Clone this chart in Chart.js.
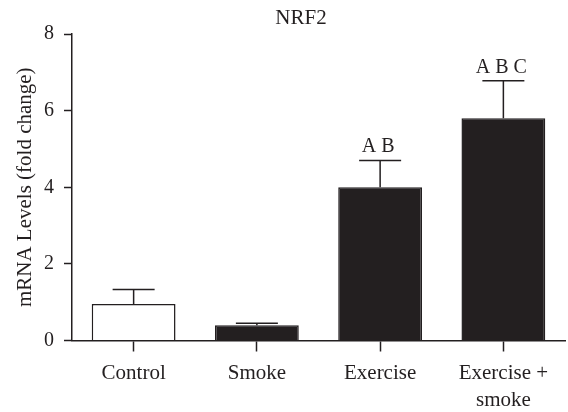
<!DOCTYPE html>
<html>
<head>
<meta charset="utf-8">
<script src="https://cdn.jsdelivr.net/npm/chart.js@4.4.1/dist/chart.umd.min.js"></script>
<style>
  html, body { margin: 0; padding: 0; background: #ffffff; }
  #wrap { width: 568px; height: 412px; position: relative; }
</style>
</head>
<body>
<div id="wrap"><canvas id="c" width="568" height="412"></canvas></div>
<script>
// NRF2 mRNA expression per group (fold change vs control)
const chartTitle = 'NRF2';
const yAxisTitle = 'mRNA Levels (fold change)';
const categories = ['Control', 'Smoke', 'Exercise', ['Exercise +', 'smoke']];
const meanValues = [0.95, 0.40, 4.0, 5.8];
const errorValues = [0.38, 0.05, 0.70, 0.98];
const significance = ['', '', 'A B', 'A B C'];
const yTicks = [0, 2, 4, 6, 8];

const INK = '#231f20';
const FONT = "'Liberation Serif', 'Times New Roman', serif";

const fills = ['#ffffff', INK, INK, INK];

// Upward error bars, significance letters and the chart title
const annotate = {
  id: 'annotate',
  afterDatasetsDraw(chart) {
    const ctx = chart.ctx;
    const meta = chart.getDatasetMeta(0);
    const y = chart.scales.y;
    ctx.save();
    ctx.strokeStyle = INK;
    ctx.lineWidth = 1.5;
    ctx.fillStyle = INK;
    ctx.font = '20px ' + FONT;
    ctx.textAlign = 'center';
    ctx.textBaseline = 'alphabetic';
    meta.data.forEach((bar, i) => {
      const x = bar.x;
      const top = y.getPixelForValue(meanValues[i]);
      const hi = y.getPixelForValue(meanValues[i] + errorValues[i]);
      const capHalf = 21;
      ctx.beginPath();
      ctx.moveTo(x, top);
      ctx.lineTo(x, hi);
      ctx.moveTo(x - capHalf, hi);
      ctx.lineTo(x + capHalf, hi);
      ctx.stroke();
      if (significance[i]) {
        ctx.fillText(significance[i], x - 2, hi - 8);
      }
    });
    ctx.font = '21px ' + FONT;
    ctx.textBaseline = 'middle';
    ctx.fillText(chartTitle, 301, 18);
    ctx.restore();
  }
};

new Chart(document.getElementById('c'), {
  type: 'bar',
  data: {
    labels: categories,
    datasets: [{
      data: meanValues,
      backgroundColor: fills,
      borderColor: INK,
      borderWidth: 1.5,
      borderSkipped: 'bottom',
      categoryPercentage: 1.0,
      barPercentage: 0.68
    }]
  },
  options: {
    responsive: false,
    animation: false,
    devicePixelRatio: 1,
    layout: { padding: { top: 34, right: 3, bottom: 0, left: 0 } },
    plugins: {
      legend: { display: false },
      title: { display: false },
      tooltip: { enabled: false }
    },
    scales: {
      x: {
        offset: true,
        grid: {
          display: true,
          offset: false,
          drawOnChartArea: false,
          drawTicks: true,
          tickLength: 11,
          tickWidth: 1.5,
          tickColor: INK
        },
        border: { display: true, color: INK, width: 1.5 },
        ticks: {
          color: INK,
          padding: 8,
          maxRotation: 0,
          font: { family: FONT, size: 21, lineHeight: 1.3 }
        },
        afterFit(scale) { scale.height = 71.5; }
      },
      y: {
        min: 0,
        max: 8,
        afterBuildTicks(scale) {
          scale.ticks = yTicks.map(v => ({ value: v }));
        },
        grid: {
          display: true,
          drawOnChartArea: false,
          drawTicks: true,
          tickLength: 8,
          tickWidth: 1.5,
          tickColor: INK
        },
        border: { display: true, color: INK, width: 1.5 },
        ticks: {
          color: INK,
          padding: 10,
          font: { family: FONT, size: 20 }
        },
        title: {
          display: true,
          text: yAxisTitle,
          color: INK,
          font: { family: FONT, size: 21 },
          padding: { top: 13, bottom: 0 }
        },
        afterFit(scale) { scale.width = 72; }
      }
    }
  },
  plugins: [annotate]
});
</script>
</body>
</html>
